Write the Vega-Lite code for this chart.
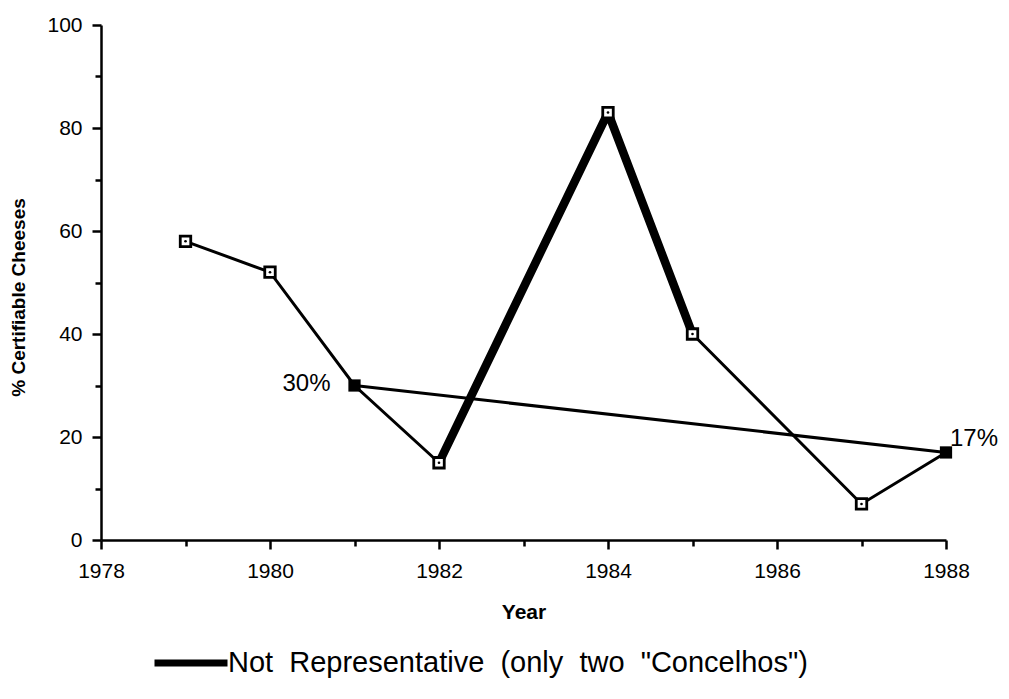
{
  "$schema": "https://vega.github.io/schema/vega-lite/v6.json",
  "width": 845,
  "height": 515,
  "autosize": "none",
  "padding": {"left": 101, "top": 25, "right": 63, "bottom": 159},
  "background": "white",
  "config": {
    "view": {"stroke": null},
    "font": "Liberation Sans",
    "axis": {
      "domainColor": "black", "domainWidth": 2.5, "tickColor": "black", "tickWidth": 2.5,
      "labelColor": "black", "labelFont": "Liberation Sans", "labelFontSize": 21,
      "titleColor": "black", "titleFont": "Liberation Sans", "titleFontWeight": "bold", "grid": false
    }
  },
  "datasets": {
    "lines": [
      {"year": 1979, "pct": 58, "seg": "a", "kind": "thin"},
      {"year": 1980, "pct": 52, "seg": "a", "kind": "thin"},
      {"year": 1981, "pct": 30, "seg": "a", "kind": "thin"},
      {"year": 1982, "pct": 15, "seg": "a", "kind": "thin"},
      {"year": 1982, "pct": 15, "seg": "b", "kind": "thick", "legend": "Not\u00a0 Representative\u00a0 (only\u00a0 two\u00a0 \"Concelhos\")"},
      {"year": 1984, "pct": 83, "seg": "b", "kind": "thick", "legend": "Not\u00a0 Representative\u00a0 (only\u00a0 two\u00a0 \"Concelhos\")"},
      {"year": 1985, "pct": 40, "seg": "b", "kind": "thick", "legend": "Not\u00a0 Representative\u00a0 (only\u00a0 two\u00a0 \"Concelhos\")"},
      {"year": 1985, "pct": 40, "seg": "c", "kind": "thin"},
      {"year": 1987, "pct": 7, "seg": "c", "kind": "thin"},
      {"year": 1988, "pct": 17, "seg": "c", "kind": "thin"},
      {"year": 1981, "pct": 30, "seg": "t", "kind": "trend"},
      {"year": 1988, "pct": 17, "seg": "t", "kind": "trend"}
    ],
    "points": [
      {"year": 1979, "pct": 58, "type": "open"},
      {"year": 1980, "pct": 52, "type": "open"},
      {"year": 1982, "pct": 15, "type": "open"},
      {"year": 1984, "pct": 83, "type": "open"},
      {"year": 1985, "pct": 40, "type": "open"},
      {"year": 1987, "pct": 7, "type": "open"},
      {"year": 1981, "pct": 30, "type": "filled", "label": "30%", "side": "left"},
      {"year": 1988, "pct": 17, "type": "filled", "label": "17%", "side": "right"}
    ]
  },
  "encoding": {
    "x": {
      "field": "year", "type": "quantitative",
      "scale": {"domain": [1978, 1988], "nice": false, "zero": false},
      "axis": {
        "title": "Year", "titleFontSize": 21, "titleY": 72, "titleBaseline": "middle",
        "values": [1978, 1979, 1980, 1981, 1982, 1983, 1984, 1985, 1986, 1987, 1988],
        "format": "d", "labelExpr": "datum.value % 2 == 0 ? datum.label : ''",
        "tickSize": {"condition": {"test": "datum.value % 2 == 0", "value": 9}, "value": 6},
        "labelPadding": 11, "labelFlush": false, "labelOverlap": false
      }
    },
    "y": {
      "field": "pct", "type": "quantitative",
      "scale": {"domain": [0, 100], "nice": false},
      "axis": {
        "title": "% Certifiable Cheeses", "titleFontSize": 19, "titleX": -83, "titleY": 272,
        "titleBaseline": "middle", "titleAlign": "center", "titleAngle": -90,
        "values": [0, 10, 20, 30, 40, 50, 60, 70, 80, 90, 100],
        "labelExpr": "datum.value % 20 == 0 ? datum.label : ''",
        "tickSize": {"condition": {"test": "datum.value % 20 == 0", "value": 9}, "value": 6},
        "labelPadding": 10, "labelFlush": false, "labelOverlap": false
      }
    }
  },
  "layer": [
    {
      "data": {"name": "lines"},
      "transform": [{"filter": "datum.kind != 'thick'"}],
      "mark": {"type": "line", "stroke": "black", "strokeWidth": 3},
      "encoding": {"detail": {"field": "seg"}, "order": {"field": "year"}}
    },
    {
      "data": {"name": "lines"},
      "transform": [{"filter": "datum.kind == 'thick'"}],
      "mark": {"type": "line", "strokeWidth": 8.5, "strokeJoin": "round"},
      "encoding": {
        "color": {
          "field": "legend", "type": "nominal",
          "scale": {"range": ["black"]},
          "legend": {
            "title": null, "orient": "none", "legendX": 50, "legendY": 598,
            "symbolType": "stroke", "symbolSize": 5329, "symbolStrokeWidth": 7,
            "labelFontSize": 29, "labelFont": "Liberation Sans", "labelColor": "black",
            "labelOffset": -3, "labelLimit": 900
          }
        }
      }
    },
    {
      "data": {"name": "points"},
      "transform": [{"filter": "datum.type == 'open'"}],
      "mark": {"type": "point", "shape": "square", "size": 110, "filled": false, "fill": "white", "stroke": "black", "strokeWidth": 2.8, "opacity": 1}
    },
    {
      "data": {"name": "points"},
      "transform": [{"filter": "datum.type == 'open'"}],
      "mark": {"type": "point", "shape": "circle", "size": 7, "filled": true, "color": "black", "opacity": 1}
    },
    {
      "data": {"name": "points"},
      "transform": [{"filter": "datum.type == 'filled'"}],
      "mark": {"type": "point", "shape": "square", "size": 150, "filled": true, "color": "black", "opacity": 1}
    },
    {
      "data": {"name": "points"},
      "transform": [{"filter": "datum.side == 'left'"}],
      "mark": {"type": "text", "align": "right", "baseline": "middle", "dx": -24, "dy": -2, "fontSize": 24, "font": "Liberation Sans", "color": "black"},
      "encoding": {"text": {"field": "label"}}
    },
    {
      "data": {"name": "points"},
      "transform": [{"filter": "datum.side == 'right'"}],
      "mark": {"type": "text", "align": "left", "baseline": "middle", "dx": 4, "dy": -13, "fontSize": 24, "font": "Liberation Sans", "color": "black"},
      "encoding": {"text": {"field": "label"}}
    }
  ]
}
